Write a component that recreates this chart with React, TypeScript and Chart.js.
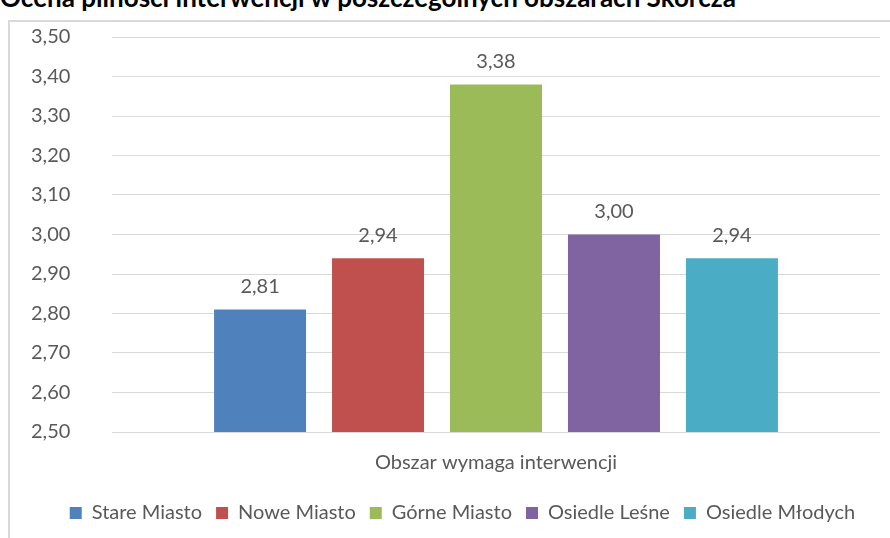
import React, { useEffect, useRef } from "react";
import { Chart, registerables } from "chart.js";

Chart.register(...registerables);

const TITLE = "Ocena pilności interwencji w poszczególnych obszarach Skórcza";
const categories = ["Obszar wymaga interwencji"];
const seriesNames = ["Stare Miasto", "Nowe Miasto", "Górne Miasto", "Osiedle Leśne", "Osiedle Młodych"];
const seriesValues = [2.81, 2.94, 3.38, 3.0, 2.94];
const seriesColors = ["#4F81BD", "#C0504D", "#9BBB59", "#8064A2", "#4BACC6"];
const yMin = 2.5;
const yMax = 3.5;
const yStep = 0.1;

const FONT = "Lato, 'Open Sans', sans-serif";
const TEXT = "#595959";
const FS = 20;

const fmt = (v: number) => v.toFixed(2).replace(".", ",");

const valueLabels = {
  id: "valueLabels",
  afterLayout(chart: any) {
    if (chart.legend) {
      chart.legend.left += 14;
    }
  },
  afterDatasetsDraw(chart: any) {
    const ctx = chart.ctx;
    ctx.save();
    ctx.font = `${FS}px ${FONT}`;
    ctx.fillStyle = TEXT;
    ctx.textAlign = "center";
    ctx.textBaseline = "bottom";
    chart.data.datasets.forEach((ds: any, i: number) => {
      const meta = chart.getDatasetMeta(i);
      meta.data.forEach((bar: any, j: number) => {
        ctx.fillText(fmt(ds.data[j]), bar.x, bar.y - 13);
      });
    });
    ctx.restore();
  },
};

export default function App() {
  const ref = useRef<HTMLCanvasElement | null>(null);
  useEffect(() => {
    if (!ref.current) return;
    const chart = new Chart(ref.current, {
      type: "bar",
      data: {
        labels: categories,
        datasets: seriesNames.map((name, i) => ({
          label: name,
          data: [seriesValues[i]],
          backgroundColor: seriesColors[i],
          borderWidth: 0,
        })),
      },
      options: {
        animation: false,
        responsive: false,
        maintainAspectRatio: false,
        layout: { padding: { top: 15, right: 10, left: 21, bottom: 5 } },
        datasets: { bar: { categoryPercentage: 0.768, barPercentage: 0.78 } },
        plugins: {
          legend: {
            position: "bottom",
            labels: {
              boxWidth: 12,
              boxHeight: 12,
              padding: 14,
              color: TEXT,
              font: { family: FONT, size: FS },
            },
          },
          tooltip: { enabled: false },
          title: { display: false },
        },
        scales: {
          x: {
            grid: { display: false, drawTicks: false },
            border: { display: false },
            ticks: { color: TEXT, font: { family: FONT, size: FS }, padding: 19 },
            afterFit: (s: any) => {
              s.height = s.height - 5;
            },
          },
          y: {
            min: yMin,
            max: yMax,
            grid: { color: "#D9D9D9", drawTicks: false, lineWidth: 1 },
            border: { display: false },
            ticks: {
              stepSize: yStep,
              color: TEXT,
              font: { family: FONT, size: FS },
              padding: 0,
              crossAlign: "far",
              callback: (v: any) => fmt(Number(v)),
            },
            afterFit: (s: any) => {
              s.width = 81;
            },
          },
        },
      },
      plugins: [valueLabels],
    });
    return () => chart.destroy();
  }, []);

  return (
    <div
      style={{
        position: "fixed",
        left: 0,
        top: 0,
        width: 890,
        height: 538,
        overflow: "hidden",
        background: "#fff",
      }}
    >
      <div
        style={{
          position: "absolute",
          left: 0,
          top: -16,
          fontFamily: "Lato, sans-serif",
          fontWeight: 700,
          fontSize: 26,
          color: "#000",
          whiteSpace: "nowrap",
          lineHeight: "26px",
        }}
      >
        {TITLE}
      </div>
      <div
        style={{
          position: "absolute",
          left: 8,
          top: 20,
          width: 900,
          height: 540,
          border: "2px solid #D9D9D9",
          boxSizing: "border-box",
        }}
      />
      <canvas
        ref={ref}
        width={880}
        height={516}
        style={{ position: "absolute", left: 10, top: 22, width: 880, height: 516 }}
      />
    </div>
  );
}
